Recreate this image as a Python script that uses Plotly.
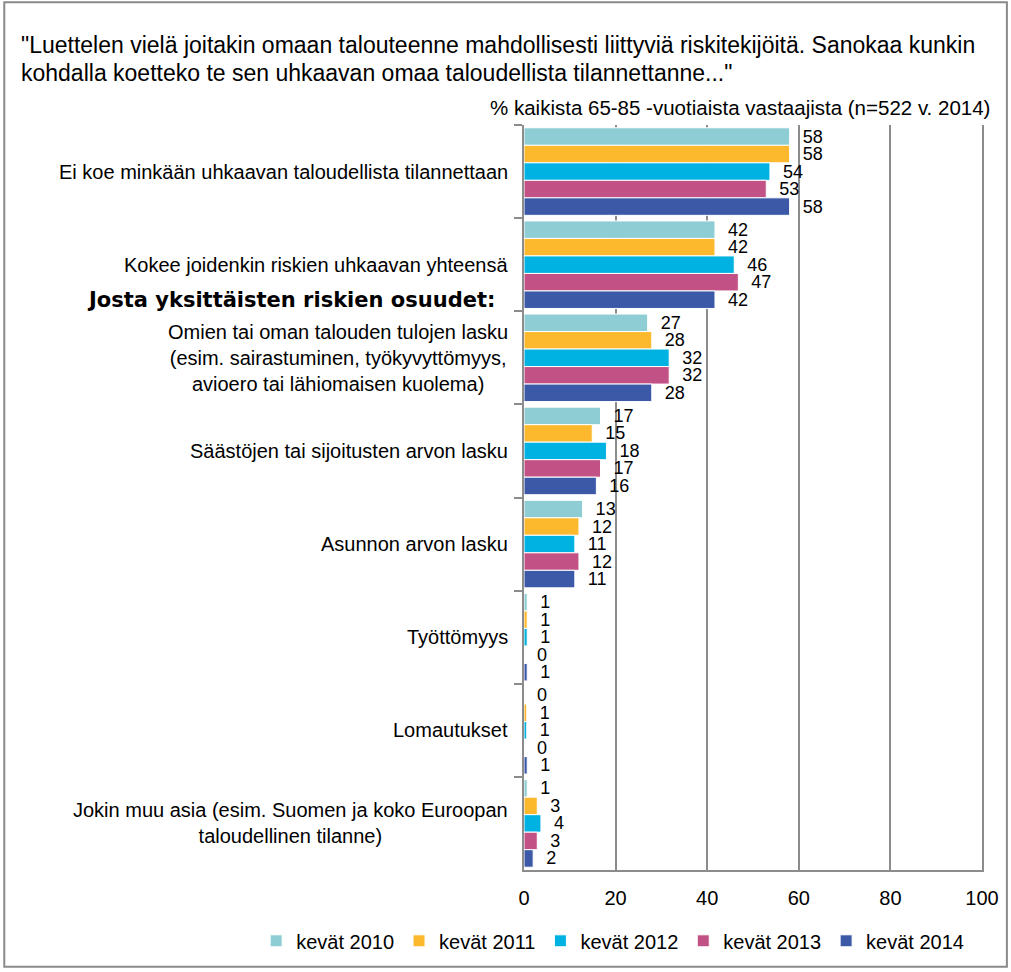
import plotly.graph_objects as go

categories = [
    "Ei koe minkään uhkaavan taloudellista tilannettaan",
    "Kokee joidenkin riskien uhkaavan yhteensä",
    "Omien tai oman talouden tulojen lasku<br>(esim. sairastuminen, työkyvyttömyys,<br>avioero tai lähiomaisen kuolema)",
    "Säästöjen tai sijoitusten arvon lasku",
    "Asunnon arvon lasku",
    "Työttömyys",
    "Lomautukset",
    "Jokin muu asia (esim. Suomen ja koko Euroopan<br>taloudellinen tilanne)",
]

series_names = ["kevät 2010", "kevät 2011", "kevät 2012", "kevät 2013", "kevät 2014"]

v2010 = [58, 41.7, 27.0, 16.7, 12.8, 0.7, 0.0, 0.7]
v2011 = [58, 41.7, 27.9, 14.9, 12.0, 0.7, 0.6, 2.9]
v2012 = [53.7, 45.9, 31.7, 18.0, 11.1, 0.7, 0.6, 3.7]
v2013 = [52.9, 46.8, 31.7, 16.7, 12.0, 0.0, 0.0, 2.9]
v2014 = [58, 41.7, 27.9, 15.8, 11.1, 0.7, 0.7, 2.0]

x_ticks = [0, 20, 40, 60, 80, 100]

title_line1 = "\"Luettelen vielä joitakin omaan talouteenne mahdollisesti liittyviä riskitekijöitä. Sanokaa kunkin"
title_line2 = "kohdalla koetteko te sen uhkaavan omaa taloudellista tilannettanne...\""
subtitle = "% kaikista 65-85 -vuotiaista vastaajista (n=522 v. 2014)"
subheading = "Josta yksittäisten riskien osuudet:"

colors = ["#8DCDD3", "#FDB92E", "#00B2E2", "#C25185", "#3C59A8"]
all_values = [v2010, v2011, v2012, v2013, v2014]

FONT = "Liberation Sans, Arial, sans-serif"

fig = go.Figure()
for name, vals, col in zip(series_names, all_values, colors):
    fig.add_trace(go.Bar(
        y=categories, x=vals, name=name, orientation="h",
        marker=dict(color=col, line=dict(color="white", width=1)),
        texttemplate="\u00a0\u00a0%{x:.0f}", textposition="outside",
        constraintext="none", cliponaxis=False,
        textfont=dict(size=18, color="black", family=FONT),
    ))

# plot area in pixels: x 524..984, y 125..872
L, R, T, B = 524, 984, 125, 872
W, H = 1011, 972
def px(xp):
    return (xp - L) / (R - L)
def py(yp):
    return (B - yp) / (B - T)

annotations = []
for c in categories:
    annotations.append(dict(
        x=px(510), xref="paper", y=c, yref="y", text=c, showarrow=False,
        xanchor="right", yanchor="middle", align="center",
        font=dict(size=20, color="black", family=FONT),
    ))
annotations.append(dict(
    x=px(497), xref="paper", y=py(300), yref="paper", text="<b>" + subheading + "</b>",
    showarrow=False, xanchor="right", yanchor="middle",
    font=dict(size=21, color="black", family="DejaVu Sans, Verdana, sans-serif"),
))
annotations.append(dict(
    x=px(17), xref="paper", y=py(45), yref="paper", text=title_line1,
    showarrow=False, xanchor="left", yanchor="middle",
    font=dict(size=23, color="black", family=FONT),
))
annotations.append(dict(
    x=px(17), xref="paper", y=py(73), yref="paper", text=title_line2,
    showarrow=False, xanchor="left", yanchor="middle",
    font=dict(size=23, color="black", family=FONT),
))
annotations.append(dict(
    x=px(994), xref="paper", y=py(107), yref="paper", text=subtitle,
    showarrow=False, xanchor="right", yanchor="middle",
    font=dict(size=20.5, color="black", family=FONT),
))

fig.update_layout(
    width=W, height=H,
    margin=dict(l=L, r=W - R, t=T, b=H - B),
    paper_bgcolor="white", plot_bgcolor="white",
    barmode="group", bargap=0.06, bargroupgap=0,
    font=dict(family=FONT, size=20, color="black"),
    showlegend=True,
    legend=dict(
        orientation="h", xref="paper", yref="paper",
        x=px(255), xanchor="left", y=py(943), yanchor="middle",
        font=dict(size=20, family=FONT), traceorder="normal",
        bgcolor="rgba(0,0,0,0)", itemwidth=30,
    ),
    annotations=annotations,
    shapes=[dict(
        type="rect", xref="paper", yref="paper",
        x0=px(2), x1=px(1009), y0=py(969), y1=py(2),
        line=dict(color="#8A8A8A", width=2), fillcolor="rgba(0,0,0,0)", layer="below",
    )],
)

fig.update_xaxes(
    range=[0, 100], tickvals=x_ticks, ticktext=[str(t) for t in x_ticks],
    showgrid=True, gridcolor="#8C8C8C", gridwidth=1.5,
    zeroline=False, showline=True, linecolor="#8C8C8C", linewidth=2,
    ticks="", tickfont=dict(size=20, family=FONT), ticklabelstandoff=9,
)
fig.update_yaxes(
    autorange="reversed", showticklabels=False,
    showgrid=False, zeroline=False, showline=True, mirror=True,
    linecolor="#8C8C8C", linewidth=2,
    ticks="outside", tickson="boundaries", ticklen=8, tickcolor="#8C8C8C", tickwidth=2,
)

fig.write_html(
    "out.html",
    config={"displayModeBar": False},
    post_script="document.body.style.margin='0';document.body.style.overflow='hidden';",
)
